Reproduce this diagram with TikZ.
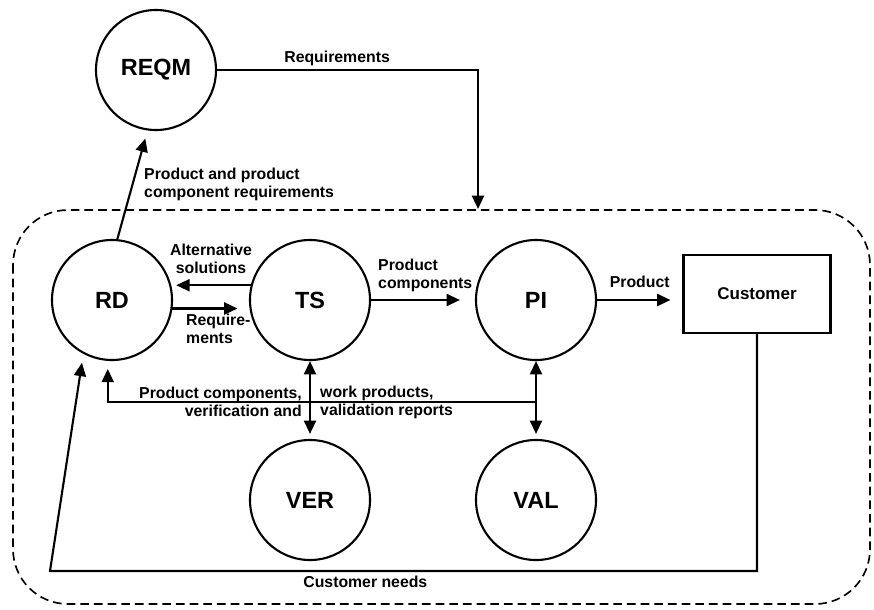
\documentclass[tikz,border=0pt]{standalone}
\usepackage{fontspec}
\setmainfont{Liberation Sans}
\usepackage{tikz}
\usetikzlibrary{calc,positioning,arrows.meta}

\begin{document}
\begin{tikzpicture}[x=0.03cm, y=-0.03cm, line width=1.8pt,
		every node/.style={font=\bfseries, align=center},
		proc/.style={draw, circle, minimum size=3.6cm, inner sep=0pt, font=\fontsize{20}{22}\selectfont\bfseries},
		lbl/.style={font=\fontsize{13.5}{15.5}\selectfont\bfseries, inner sep=1pt},
		arr/.style={-{Triangle[length=0.4cm, width=0.36cm]}},
		darr/.style={{Triangle[length=0.4cm, width=0.36cm]}-{Triangle[length=0.4cm, width=0.36cm]}}]
		\useasboundingbox (0,0) rectangle (874,609);

		% Cadre en pointillés
		\draw[line width=1.4pt, dash pattern=on 0.26cm off 0.15cm, rounded corners=1.65cm] (13,210) rectangle (870,604);

		% Processus
		\node[proc] (reqm) at (156,70) {REQM};
		\node[proc] (rd) at (112,300) {RD};
		\node[proc] (ts) at (310,300) {TS};
		\node[proc] (pi) at (536,300) {PI};
		\node[proc] (ver) at (310,500) {VER};
		\node[proc] (val) at (536,500) {VAL};
		\node[draw, minimum width=4.41cm, minimum height=2.34cm, font=\fontsize{14.5}{16}\selectfont\bfseries] (cust) at (757,294) {Customer};

		% Flux vers REQM et retour
		\draw[arr, shorten >=0.25cm] (rd.85) -- (reqm.262);
		\node[lbl, align=left, anchor=west] (prl) at (142,184) {Product and product\\component requirements};
		\coordinate (drop) at (478,209);
		\draw[arr] (reqm.east) -| node[lbl, pos=0.23, above=2pt] {Requirements} (drop);

		% Flux horizontaux
		\draw[arr, shorten >=0.15cm] (ts.166) -- (rd.14) node[lbl, midway, above=8pt] {Alternative\\solutions};
		\draw[arr, shorten >=0.36cm] (rd.-8) -- (ts.188);
		\node[lbl, align=left, anchor=north west] (reqs) at (184,312) {Require-\\ments};
		\draw[arr, shorten >=0.45cm] (ts.east) -- (pi.west);
		\node[lbl, align=left, anchor=south west] (pcl) at (376,294) {Product\\components};
		\draw[arr, shorten >=0.36cm] (pi.east) -- (pi.east -| cust.west) node[lbl, midway, above=9pt] {Product};

		% Vérification et validation
		\draw[darr, shorten >=0.15cm] (ts.south) -- (ver.north);
		\draw[darr, shorten >=0.15cm] (pi.south) -- (val.north);
		\coordinate (fb) at (536,402);
		\draw[arr, shorten >=0.24cm] (fb) -| (rd.266);
		\node[lbl, align=right, anchor=east] (fbl) at (304,402) {Product components,\\verification and};
		\node[lbl, align=left, anchor=west] (fbr) at (318,402) {work products,\\validation reports};

		% Besoins du client
		\coordinate (cn) at (50,571);
		\draw[arr, shorten >=0.27cm] (cust.south) |- node[lbl, pos=0.777, below=2pt] {Customer needs} (cn) -- (rd.242);
	\end{tikzpicture}
\end{document}
